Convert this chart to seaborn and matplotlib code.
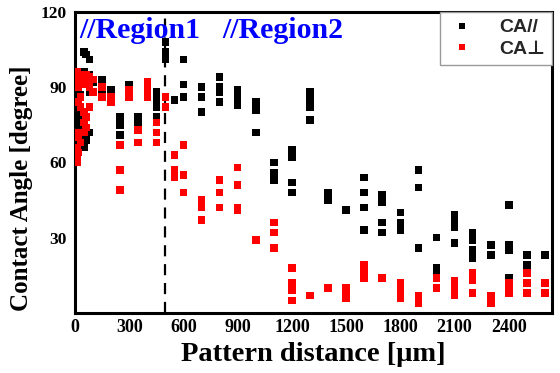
import matplotlib
matplotlib.use("Agg")
import matplotlib.pyplot as plt
import seaborn as sns
import pandas as pd
from matplotlib.font_manager import FontProperties

# CA// (parallel) series
par_x = [10, 10, 10, 10,
         20, 20, 20,
         30, 30, 30,
         50, 50, 50, 50,
         60, 60, 60,
         80, 80, 80, 80,
         100,
         150, 150,
         200,
         250, 250, 250,
         300,
         350, 350,
         400,
         450, 450, 450, 450,
         500, 500, 500,
         550,
         600, 600, 600,
         700, 700, 700,
         800, 800, 800, 800,
         900, 900, 900,
         1000, 1000, 1000,
         1100, 1100, 1100,
         1200, 1200, 1200, 1200,
         1300, 1300, 1300, 1300,
         1400, 1400,
         1500,
         1600, 1600, 1600, 1600,
         1700, 1700, 1700, 1700,
         1800, 1800, 1800,
         1900, 1900, 1900,
         2000, 2000, 2000,
         2100, 2100, 2100, 2100,
         2200, 2200, 2200, 2200,
         2300, 2300,
         2400, 2400, 2400, 2400,
         2500, 2500,
         2600]
par_y = [80, 76, 74, 70,
         92, 78, 73,
         87, 81, 68,
         104, 96, 71, 66,
         103, 93, 69,
         101, 95, 88, 72,
         92,
         93, 89,
         89,
         78, 75, 71,
         91,
         78, 75,
         89,
         88, 85, 82, 78,
         108, 104, 101,
         85,
         101, 91, 86,
         90, 86, 80,
         94, 90, 88, 84,
         89, 86, 83,
         84, 81, 72,
         60, 56, 53,
         65, 62, 52, 48,
         88, 85, 82, 77,
         48, 45,
         41,
         54, 48, 42, 33,
         47, 44, 36, 32,
         40, 36, 33,
         57, 50, 26,
         30, 18, 16,
         39, 36, 34, 28,
         32, 29, 25, 22,
         27, 23,
         43, 27, 25, 14,
         23, 19,
         23]

# CA⊥ (perpendicular) series
perp_x = [10, 10, 10, 10, 10, 10,
          20, 20, 20, 20, 20,
          30, 30, 30, 30,
          50, 50, 50, 50, 50,
          60, 60, 60, 60,
          80, 80, 80,
          100, 100,
          150, 150,
          200, 200,
          250, 250, 250,
          300, 300,
          350, 350,
          400, 400, 400,
          450, 450, 450,
          500, 500,
          550, 550, 550,
          600, 600, 600,
          700, 700, 700,
          800, 800, 800,
          900, 900, 900, 900,
          1000,
          1100, 1100, 1100,
          1200, 1200, 1200, 1200,
          1300,
          1400,
          1500, 1500, 1500,
          1600, 1600, 1600,
          1700,
          1800, 1800, 1800,
          1900, 1900,
          2000, 2000,
          2100, 2100, 2100,
          2200, 2200, 2200,
          2300, 2300,
          2400, 2400, 2400,
          2500, 2500, 2500,
          2600, 2600]
perp_y = [96, 93, 72, 66, 62, 60,
          95, 90, 84, 70, 64,
          95, 86, 82, 68,
          94, 92, 80, 76, 72,
          95, 91, 78, 74,
          94, 90, 82,
          93, 88,
          90, 86,
          86, 84,
          67, 57, 49,
          89, 86,
          73, 68,
          92, 89, 86,
          76, 72, 68,
          86, 82,
          63, 57, 54,
          67, 55, 48,
          45, 42, 37,
          53, 48, 42,
          58, 51, 42, 41,
          29,
          36, 32, 26,
          18, 12, 9, 5,
          7,
          10,
          10, 8, 6,
          19, 17, 14,
          14,
          12, 9, 6,
          7, 4,
          14, 10,
          13, 10, 7,
          16, 13, 8,
          7, 4,
          12, 10, 8,
          16, 12, 8,
          12, 8]

series_names = ["CA//", "CA\u22a5"]
series_colors = ["#000000", "#ff0000"]
x_ticks = [0, 300, 600, 900, 1200, 1500, 1800, 2100, 2400]
y_ticks = [30, 60, 90, 120]
region_boundary = 500
region_labels = ["//Region1", "//Region2"]

df = pd.concat([
    pd.DataFrame({"dist": par_x, "angle": par_y, "series": series_names[0]}),
    pd.DataFrame({"dist": perp_x, "angle": perp_y, "series": series_names[1]}),
], ignore_index=True)

sns.set_style("white")
fig = plt.figure(figsize=(5.6, 3.73), dpi=100)
ax = fig.add_axes([0.134, 0.161, 0.852, 0.807])

sns.scatterplot(data=df, x="dist", y="angle", hue="series",
                hue_order=series_names,
                palette=dict(zip(series_names, series_colors)),
                marker="s", s=30, linewidth=0, ax=ax, legend=True, zorder=3)

ax.axvline(region_boundary, color="black", linestyle=(0, (5, 3.5)), linewidth=1.6, zorder=2)

ax.set_xlim(0, 2640)
ax.set_ylim(0, 120)
ax.set_xticks(x_ticks)
ax.set_yticks(y_ticks)
xt_font = FontProperties(family="Liberation Serif", weight="bold", size=13)
yt_font = FontProperties(family="Liberation Serif", weight="bold", size=12.5)
for lab in ax.get_xticklabels():
    lab.set_fontproperties(xt_font)
    lab.set_color("black")
for lab in ax.get_yticklabels():
    lab.set_fontproperties(yt_font)
    lab.set_color("black")
ax.tick_params(axis="x", length=0, pad=4)
ax.tick_params(axis="y", length=0, pad=6)

for sp in ax.spines.values():
    sp.set_linewidth(2.2)
    sp.set_color("black")

ax.set_xlabel("Pattern distance [\u03bcm]",
              fontdict=dict(family="Liberation Serif", weight="bold", size=20.5),
              labelpad=5, color="black")
ax.set_ylabel("Contact Angle [degree]",
              fontdict=dict(family="Liberation Serif", weight="bold", size=18),
              color="black")
ax.yaxis.set_label_coords(-0.088, 0.415)

ax.text(25, 112.5, region_labels[0], color="#0000ff", fontsize=21.5,
        fontweight="bold", family="Liberation Serif", va="center", ha="left")
ax.text(815, 112.5, region_labels[1], color="#0000ff", fontsize=21.5,
        fontweight="bold", family="Liberation Serif", va="center", ha="left")

handles, labels = ax.get_legend_handles_labels()
leg = ax.legend(handles, labels, loc="upper right", borderaxespad=0,
                fancybox=False, edgecolor="#999999", framealpha=1,
                markerscale=0.7, handletextpad=1.1, borderpad=0.35,
                labelspacing=0.2, handlelength=1.6,
                prop=FontProperties(family=["Liberation Sans", "DejaVu Sans"],
                                    weight="bold", size=14))
leg.get_frame().set_linewidth(1.0)

fig.savefig("out.png", dpi=100)
